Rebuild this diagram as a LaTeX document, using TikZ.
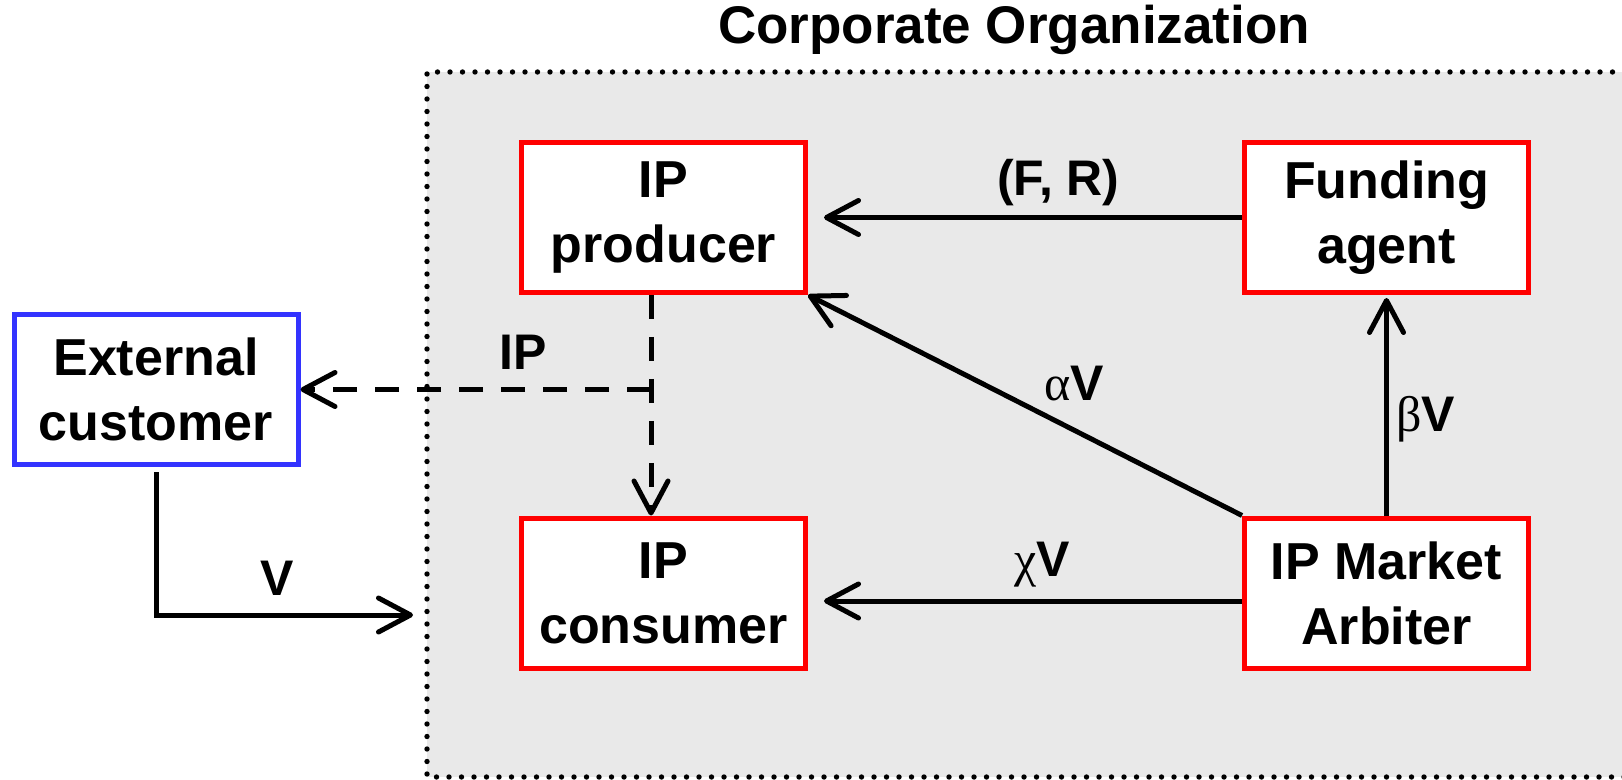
\documentclass[tikz,border=0pt]{standalone}
\usepackage{fontspec}
\setmainfont{Liberation Sans}
\newfontfamily\greekfont{Liberation Serif}
\usepackage{xcolor}
\usepackage{tikz}
\usetikzlibrary{arrows.meta,positioning}
\definecolor{agentred}{RGB}{255,0,0}
\definecolor{custblue}{RGB}{51,51,255}
\definecolor{orggray}{RGB}{233,233,233}
\tikzset{
  agentbox/.style={
    rectangle,
    draw=agentred,
    fill=white,
    line width=2.5pt,
    align=center,
    minimum width=142pt,
    minimum height=75pt,
    inner sep=2pt,
    font=\fontsize{26}{32.5}\selectfont\bfseries
  },
  custbox/.style={
    agentbox,
    draw=custblue
  },
  flowarrow/.style={
    -{Straight Barb[length=16pt,width=17pt,round]},
    line width=2.5pt,
    draw=black
  },
  ipflow/.style={
    flowarrow,
    dash pattern=on 12pt off 9pt
  },
  flowlabel/.style={
    inner sep=0pt,
    font=\fontsize{25}{30}\selectfont\bfseries
  },
  orgborder/.style={
    line width=2.7pt,
    line cap=round,
    dash pattern=on 0pt off 6.25pt
  }
}
\newcommand{\grk}[1]{{\greekfont\mdseries #1}}

\begin{document}
\begin{tikzpicture}[x=0.5pt,y=-0.5pt,node distance=110.25pt and 217pt]
\useasboundingbox (0,0) rectangle (1622,780);
% corporate area
\fill[orggray] (427,72) rectangle (1650,777);
\draw[orgborder] (1650,72) -- (427,72) -- (427,777) -- (1650,777);
\node[flowlabel, anchor=base, font=\fontsize{26.5}{32}\selectfont\bfseries] (orgtitle) at (1014,43.5) {Corporate Organization};

\node[agentbox] (producer) at (663.5,217.5) {IP\\producer};
\node[agentbox, right=of producer] (funding) {Funding\\agent};
\node[agentbox, below=of producer] (consumer) {IP\\consumer};
\node[agentbox, right=of consumer] (arbiter) {IP Market\\Arbiter};
\node[custbox] (customer) at (156,389.5) {External\\customer};

\coordinate (ipsplit) at ([xshift=-6.25pt]producer.south |- customer.east);
\coordinate (vend) at (413,615);

\draw[flowarrow, shorten >=8pt] (funding.west) -- node[flowlabel, pos=.423, yshift=17.25pt] {(F, R)} (producer.east);
\draw[flowarrow] (arbiter.north west) -- node[flowlabel, pos=.387, yshift=23.5pt] {\grk{α}V} (producer.south east);
\draw[flowarrow, shorten >=1.5pt] (arbiter) -- node[flowlabel, pos=.435, xshift=19.5pt] {\grk{β}V} (funding);
\draw[flowarrow, shorten >=8pt] ([yshift=-4pt]arbiter.west) -- node[flowlabel, pos=.46, yshift=18pt] {\grk{χ}V} ([yshift=-4pt]consumer.east);
% IP flows
\draw[ipflow] ([xshift=-6.25pt]producer.south) -- ([xshift=-6.25pt]consumer.north);
\draw[ipflow] (ipsplit) -- node[flowlabel, pos=.365, yshift=18.75pt] {IP} (customer.east |- ipsplit);
\draw[flowarrow] ([yshift=-2.5pt]customer.south) |- node[flowlabel, pos=.736, yshift=18.25pt] {V} (vend);
\end{tikzpicture}
\end{document}
